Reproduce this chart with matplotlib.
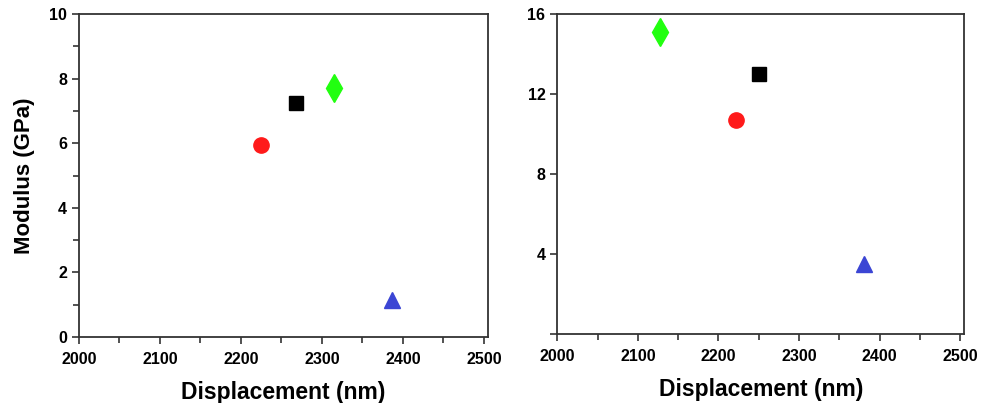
import numpy as np
import matplotlib
matplotlib.use("Agg")
import matplotlib.pyplot as plt
from matplotlib.ticker import MultipleLocator

# data
labels  = ["circle", "square", "diamond", "triangle"]
markers = ["o", "s", "d", "^"]
colors  = ["#ff1a1a", "#000000", "#22ff10", "#3b45d4"]
sizes   = [11, 10, 14, 12]

disp_a = [2225, 2268, 2315, 2387]
mod_a  = [5.95, 7.25, 7.7, 1.15]

disp_b = [2222, 2250, 2127, 2380]
mod_b  = [10.7, 13.0, 15.1, 3.5]

plt.rcParams["font.family"] = ["Liberation Sans", "DejaVu Sans"]
plt.rcParams["font.weight"] = "bold"

fig = plt.figure(figsize=(9.81, 4.03), dpi=100)
ax1 = fig.add_axes([0.0805, 0.164, 0.417, 0.801])
ax2 = fig.add_axes([0.568, 0.171, 0.415, 0.794])

for ax, xs, ys in [(ax1, disp_a, mod_a), (ax2, disp_b, mod_b)]:
    for x, y, m, c, s in zip(xs, ys, markers, colors, sizes):
        ax.plot(x, y, marker=m, color=c, markersize=s, linestyle="none")
    ax.set_xlim(2000, 2505)
    ax.xaxis.set_major_locator(MultipleLocator(100))
    ax.xaxis.set_minor_locator(MultipleLocator(50))
    ax.set_xlabel("Displacement (nm)", fontsize=16.5, fontweight="bold", labelpad=10)
    ax.tick_params(which="both", direction="out", width=1.2, colors="#333333", labelcolor="black", labelsize=11.5)
    ax.tick_params(which="major", length=5)
    ax.tick_params(which="minor", length=4)
    ax.tick_params(axis="x", which="major", pad=6)
    for sp in ax.spines.values():
        sp.set_linewidth(1.3)
        sp.set_color("#333333")

ax1.set_ylim(0, 10)
ax1.yaxis.set_major_locator(MultipleLocator(2))
ax1.yaxis.set_minor_locator(MultipleLocator(1))
ax1.set_ylabel("Modulus (GPa)", fontsize=16, fontweight="bold", labelpad=10)

ax2.set_ylim(0, 16)
ax2.set_yticks([0, 4, 8, 12, 16])
ax2.set_yticklabels(["", "4", "8", "12", "16"])

for ax in (ax1, ax2):
    for lab in ax.get_xticklabels() + ax.get_yticklabels():
        lab.set_fontweight("bold")

fig.savefig("out.png", dpi=100)
